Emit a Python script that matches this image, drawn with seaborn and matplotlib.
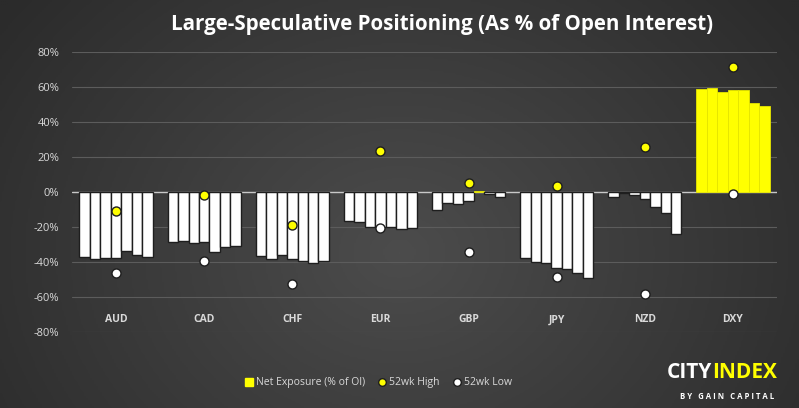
"""Large-speculative positioning chart, dark theme."""
import numpy as np
import pandas as pd
import matplotlib.pyplot as plt
import seaborn as sns
from matplotlib.lines import Line2D
from matplotlib.colors import LinearSegmentedColormap

# data (% of open interest)
currencies = ["AUD", "CAD", "CHF", "EUR", "GBP", "JPY", "NZD", "DXY"]
weeks = ["w1", "w2", "w3", "w4", "w5", "w6", "w7"]

aud = [-37.1, -38.1, -37.5, -37.5, -33.5, -36.0, -37.1]
cad = [-28.8, -27.8, -29.4, -28.8, -34.1, -31.3, -30.7]
chf = [-36.6, -38.1, -36.0, -38.1, -39.6, -40.4, -39.3]
eur = [-16.4, -17.0, -20.2, -19.8, -19.8, -21.0, -20.4]
gbp = [-10.2, -6.0, -7.1, -5.0, 0.4, -1.4, -3.1]
jpy = [-37.7, -39.8, -40.4, -43.3, -43.8, -46.1, -49.4]
nzd = [-3.1, -0.6, -1.5, -4.2, -8.8, -12.2, -23.8]
dxy = [59.0, 59.6, 57.3, 58.5, 58.5, 51.0, 49.3]

high_52wk = [-10.7, -1.9, -19.0, 23.6, 4.9, 3.2, 25.5, 71.2]
low_52wk = [-46.5, -39.4, -52.4, -20.8, -34.5, -48.6, -58.3, -1.4]

yticks = [-80, -60, -40, -20, 0, 20, 40, 60, 80]

YELLOW = "#ffff00"
TEXT = "#d9d9d9"

net = dict(zip(currencies, [aud, cad, chf, eur, gbp, jpy, nzd, dxy]))
df = pd.DataFrame(
    [(c, w, v) for c in currencies for w, v in zip(weeks, net[c])],
    columns=["currency", "week", "net"],
)

sns.set_theme(style="dark")
plt.rcParams["font.family"] = ["Open Sans", "DejaVu Sans"]

fig = plt.figure(figsize=(7.99, 4.08), dpi=100)

# dark radial background
bg = fig.add_axes([0, 0, 1, 1], zorder=-10)
yy, xx = np.mgrid[0:1:200j, 0:1:400j]
dist = np.sqrt(((xx - 0.5) / 0.62) ** 2 + ((yy - 0.62) / 1.0) ** 2)
cmap = LinearSegmentedColormap.from_list("bg", ["#4c4c4c", "#2b2b2b"])
bg.imshow(np.clip(dist, 0, 1), cmap=cmap, vmin=0, vmax=1, aspect="auto",
          extent=[0, 1, 0, 1], origin="upper")
bg.axis("off")

ax = fig.add_axes([0.0901, 0.1863, 0.8824, 0.6862])
ax.set_facecolor("none")

sns.barplot(data=df, x="currency", y="net", hue="week", order=currencies,
            hue_order=weeks, palette=["white"] * 7, width=0.83, gap=0,
            legend=False, ax=ax, zorder=3)

# Excel style: negative bars inverted to white with dark outline
for p in ax.patches:
    if p.get_height() > 0:
        p.set_facecolor(YELLOW)
        p.set_edgecolor("#e6e600")
        p.set_linewidth(0.6)
    else:
        p.set_facecolor("white")
        p.set_edgecolor("#1e1e1e")
        p.set_linewidth(1.0)

sns.stripplot(x=currencies, y=high_52wk, order=currencies, jitter=False,
              color=YELLOW, edgecolor="#1e1e1e", linewidth=1.0, size=6.5,
              ax=ax, zorder=5)
sns.stripplot(x=currencies, y=low_52wk, order=currencies, jitter=False,
              color="white", edgecolor="#1e1e1e", linewidth=1.0, size=6.5,
              ax=ax, zorder=5)

ax.set_xlim(-0.5, len(currencies) - 0.5)
ax.set_ylim(-80, 80)
ax.set_yticks(yticks)
ax.set_yticklabels([f"{t}%" for t in yticks])
ax.grid(axis="y", color="#5c5c5c", linewidth=0.8, zorder=0)
ax.grid(axis="x", visible=False)
ax.axhline(0, color="#c8c8c8", linewidth=1.0, zorder=2)
ax.tick_params(axis="y", colors=TEXT, labelsize=8, length=0, pad=9)
ax.set_xticks([])
ax.set_xlabel("")
ax.set_ylabel("")
for s in ax.spines.values():
    s.set_visible(False)

# category labels sit inside the plot, just above the -80% line
for i, c in enumerate(currencies):
    ax.text(i, -73, c, ha="center", va="center", color=TEXT, fontsize=7.5,
            fontweight="bold")

fig.text(0.553, 0.94, "Large-Speculative Positioning (As % of Open Interest)",
         ha="center", va="center", color="white", fontsize=14.8,
         fontweight="bold")

handles = [
    Line2D([], [], marker="s", linestyle="", markersize=6,
           markerfacecolor=YELLOW, markeredgecolor=YELLOW),
    Line2D([], [], marker="o", linestyle="", markersize=5.5,
           markerfacecolor=YELLOW, markeredgecolor="#1e1e1e"),
    Line2D([], [], marker="o", linestyle="", markersize=5.5,
           markerfacecolor="white", markeredgecolor="#1e1e1e"),
]
leg = fig.legend(handles, ["Net Exposure (% of OI)", "52wk High", "52wk Low"],
                 loc="center", bbox_to_anchor=(0.473, 0.062), ncol=3,
                 frameon=False, fontsize=7.5, handletextpad=0.2,
                 columnspacing=1.1, handlelength=1.0)
for t in leg.get_texts():
    t.set_color(TEXT)

# logo
fig.text(0.891, 0.087, "CITY", ha="right", va="center", color="white",
         fontsize=15, fontweight="bold")
fig.text(0.891, 0.087, "INDEX", ha="left", va="center", color=YELLOW,
         fontsize=15, fontweight="bold")
fig.text(0.91, 0.027, "B Y   G A I N   C A P I T A L", ha="center",
         va="center", color="white", fontsize=5.6, fontweight="bold")

fig.savefig("out.png", dpi=100)
